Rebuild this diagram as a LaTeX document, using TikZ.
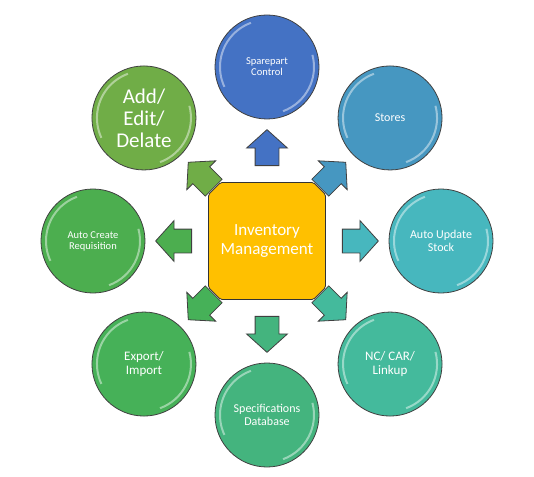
\documentclass[tikz,border=0pt]{standalone}
\usepackage{fontspec}
\setmainfont{Carlito}
\usetikzlibrary{shapes.misc,shapes.arrows}

\definecolor{invyellow}{HTML}{FFC000}
\definecolor{spareblue}{HTML}{4472C4}
\definecolor{storesblue}{HTML}{4697C1}
\definecolor{stockteal}{HTML}{47B7BE}
\definecolor{ncteal}{HTML}{44BA9C}
\definecolor{specgreen}{HTML}{44B47E}
\definecolor{exportgreen}{HTML}{46B158}
\definecolor{reqgreen}{HTML}{4CAE4F}
\definecolor{addgreen}{HTML}{70AD47}

\tikzset{
	topic/.style={circle, draw=black!75, line width=0.8pt, minimum size=104pt, inner sep=0pt,
		text=white, align=center, font=\fontsize{12}{13}\selectfont,
		path picture={
			\draw[white, opacity=0.45, line width=2pt] ([shift={(110:47pt)}]path picture bounding box.center) arc[start angle=110, end angle=205, radius=47pt];
			\draw[white, opacity=0.45, line width=2pt] ([shift={(-70:47pt)}]path picture bounding box.center) arc[start angle=-70, end angle=15, radius=47pt];}},
	hub/.style={chamfered rectangle, chamfered rectangle xsep=9pt, draw=black!80, line width=0.8pt,
		fill=invyellow, minimum width=117pt, minimum height=117pt, inner sep=0pt, rounded corners=1.5pt,
		text=white, align=center, font=\fontsize{17}{19}\selectfont},
	blockarrow/.style={single arrow, draw=black!75, line width=0.8pt, minimum height=36pt,
		inner xsep=0pt, inner ysep=11.5pt, single arrow head extend=8.5pt, single arrow tip angle=96}
}

\begin{document}
\begin{tikzpicture}
	[node distance=174pt]
	\useasboundingbox (-267pt,-235pt) rectangle (267pt,241pt);
	% nodes %
	\node[hub] (inv) at (0,0) {Inventory\\Management};
	\node[topic, fill=spareblue, above of = inv, font=\fontsize{10.5}{11}\selectfont] (spare) {Sparepart\\Control};
	\node[topic, fill=storesblue, above right of = inv] (stores) {Stores};
	\node[topic, fill=stockteal, right of = inv] (stock) {Auto Update\\Stock};
	\node[topic, fill=ncteal, below right of = inv, font=\fontsize{13}{14}\selectfont] (nc) {NC/ CAR/\\Linkup};
	\node[topic, fill=specgreen, below of = inv] (spec) {Specifications\\Database};
	\node[topic, fill=exportgreen, below left of = inv, font=\fontsize{13}{14}\selectfont] (export) {Export/\\Import};
	\node[topic, fill=reqgreen, left of = inv, font=\fontsize{10.5}{11}\selectfont] (req) {Auto Create\\Requisition};
	\node[topic, fill=addgreen, above left of = inv, font=\fontsize{21}{22}\selectfont] (add) {Add/\\Edit/\\Delate};

	% arrows %
	\node[blockarrow, fill=spareblue, rotate=90] (toSpare) at (90:88pt) {};
	\node[blockarrow, fill=storesblue, rotate=45] (toStores) at (45:88pt) {};
	\node[blockarrow, fill=stockteal, rotate=0] (toStock) at (0:88pt) {};
	\node[blockarrow, fill=ncteal, rotate=-45] (toNc) at (-45:88pt) {};
	\node[blockarrow, fill=specgreen, rotate=-90] (toSpec) at (-90:88pt) {};
	\node[blockarrow, fill=exportgreen, rotate=-135] (toExport) at (-135:88pt) {};
	\node[blockarrow, fill=reqgreen, rotate=180] (toReq) at (180:88pt) {};
	\node[blockarrow, fill=addgreen, rotate=135] (toAdd) at (135:88pt) {};
\end{tikzpicture}
\end{document}
